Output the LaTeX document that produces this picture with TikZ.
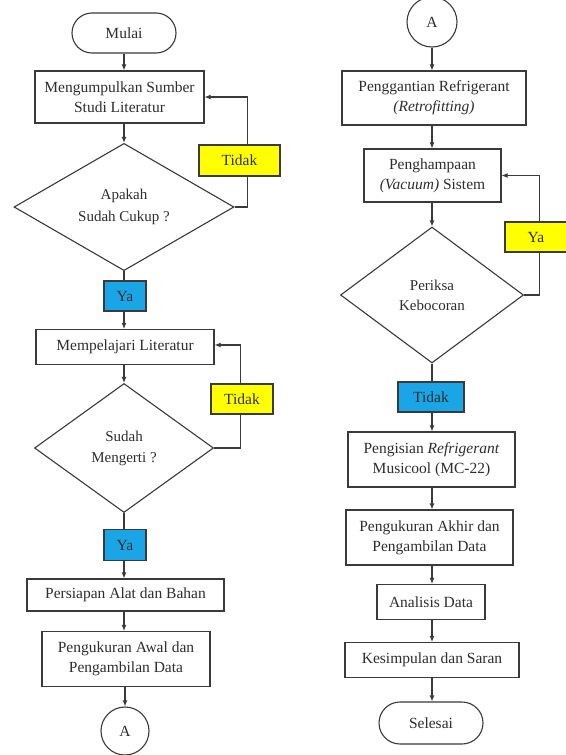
\documentclass[tikz,border=0pt]{standalone}
\usepackage{fontspec}
\setmainfont{Liberation Serif}
\usetikzlibrary{shapes.geometric,arrows.meta}
\definecolor{ln}{HTML}{3A3A3A}
\definecolor{tx}{HTML}{2E2E2E}
\definecolor{ylw}{HTML}{FFFF00}
\definecolor{blu}{HTML}{1AA6E6}
\begin{document}
\begin{tikzpicture}[x=1pt,y=-1pt,
  base/.style={draw=ln, line width=1.1pt, text=tx, font=\fontsize{15.5}{20}\selectfont, align=center, inner sep=0pt},
  procbox/.style={base, rectangle},
  termbox/.style={base, rectangle, rounded corners=20pt},
  decbox/.style={base, diamond, font=\fontsize{15}{22}\selectfont},
  conn/.style={base, circle, minimum size=48pt},
  yesno/.style={base, rectangle, fill=ylw},
  yesblue/.style={base, rectangle, fill=blu},
  flow/.style={draw=ln, line width=1.1pt},
  arr/.style={flow, -{Latex[length=6pt,width=5pt]}}
]
\useasboundingbox (0,0) rectangle (565,755);
\fill[white] (0,0) rectangle (565,755);

% left column
\node[termbox, minimum width=104pt, minimum height=40pt] (start) at (124,33) {Mulai};
\node[procbox, minimum width=169pt, minimum height=52pt] (b1) at (119.5,97) {Mengumpulkan Sumber\\Studi Literatur};
\node[decbox, minimum width=220pt, minimum height=120pt] (d1) at (124,207) {Apakah\\Sudah Cukup ?};
\node[yesblue, minimum width=42pt, minimum height=30pt] (ya1) at (125,296) {Ya};
\node[procbox, minimum width=178pt, minimum height=35pt] (b2) at (125,347) {Mempelajari Literatur};
\node[decbox, minimum width=179pt, minimum height=129pt, font=\fontsize{15}{21}\selectfont] (d2) at (124,448) {Sudah\\Mengerti ?};
\node[yesblue, minimum width=42pt, minimum height=31pt] (ya2) at (125,545) {Ya};
\node[procbox, minimum width=197pt, minimum height=32pt] (b3) at (125.5,595) {Persiapan Alat dan Bahan};
\node[procbox, minimum width=168pt, minimum height=55pt] (b4) at (126,659) {Pengukuran Awal dan\\Pengambilan Data};
\node[conn] (ca) at (125,731) {A};

% right column
\node[conn, minimum size=50pt] (ca2) at (432,22) {A};
\node[procbox, minimum width=184pt, minimum height=54pt] (r1) at (434,98) {Penggantian Refrigerant\\\textit{(Retrofitting)}};
\node[procbox, minimum width=137pt, minimum height=53pt] (r2) at (432.5,175.5) {Penghampaan\\\textit{(Vacuum)} Sistem};
\node[decbox, minimum width=183pt, minimum height=136pt, font=\fontsize{15}{20}\selectfont] (d3) at (432,295) {Periksa\\Kebocoran};
\node[yesblue, minimum width=66pt, minimum height=30pt] (td3) at (431,397) {Tidak};
\node[procbox, minimum width=167pt, minimum height=55pt] (r3) at (431.5,459.5) {Pengisian \textit{Refrigerant}\\Musicool (MC-22)};
\node[procbox, minimum width=167pt, minimum height=55pt] (r4) at (429.5,537.5) {Pengukuran Akhir dan\\Pengambilan Data};
\node[procbox, minimum width=108pt, minimum height=35pt] (r5) at (431,602) {Analisis Data};
\node[procbox, minimum width=174pt, minimum height=35pt] (r6) at (432,660) {Kesimpulan dan Saran};
\node[termbox, minimum width=104pt, minimum height=42pt, rounded corners=21pt] (end) at (431,723) {Selesai};

% left connectors
\draw[arr] (start.south) -- (start.south |- b1.north);
\draw[arr] (b1.south -| d1.north) -- (d1.north);
\draw[flow] (d1.south) -- (ya1.north -| d1.south);
\draw[arr] (ya1.south -| d1.south) -- (d1.south |- b2.north);
\draw[arr] (b2.south -| d2.north) -- (d2.north);
\draw[flow] (d2.south) -- (ya2.north -| d2.south);
\draw[arr] (ya2.south -| d2.south) -- (d2.south |- b3.north);
\draw[arr] (b3.south -| d2.south) -- (d2.south |- b4.north);
\draw[arr] (b4.south -| ca.north) -- (ca.north);
\draw[arr] (d1.east) -- ++(13,0) |- (b1.east);
\draw[arr] (d2.east) -- ++(26,0) |- ([yshift=2pt]b2.east);
\node[yesno, minimum width=81pt, minimum height=31pt] (td1) at (239.5,160.5) {Tidak};
\node[yesno, minimum width=62pt, minimum height=30pt] (td2) at (242,399) {Tidak};

% right connectors
\draw[arr] (ca2.south) -- (ca2.south |- r1.north);
\draw[arr] (r1.south -| ca2.south) -- (ca2.south |- r2.north);
\draw[arr] (r2.south -| d3.north) -- (d3.north);
\draw[flow] (d3.south) -- (td3.north -| d3.south);
\draw[arr] (td3.south -| d3.south) -- (d3.south |- r3.north);
\draw[arr] (r3.south -| d3.south) -- (d3.south |- r4.north);
\draw[arr] (r4.south -| d3.south) -- (d3.south |- r5.north);
\draw[arr] (r5.south -| d3.south) -- (d3.south |- r6.north);
\draw[arr] (r6.south -| d3.south) -- (d3.south |- end.north);
\draw[arr] (d3.east) -- ++(15,0) |- (r2.east);
\node[yesno, minimum width=62pt, minimum height=30pt] (ya3) at (536,237) {Ya};
\end{tikzpicture}
\end{document}
